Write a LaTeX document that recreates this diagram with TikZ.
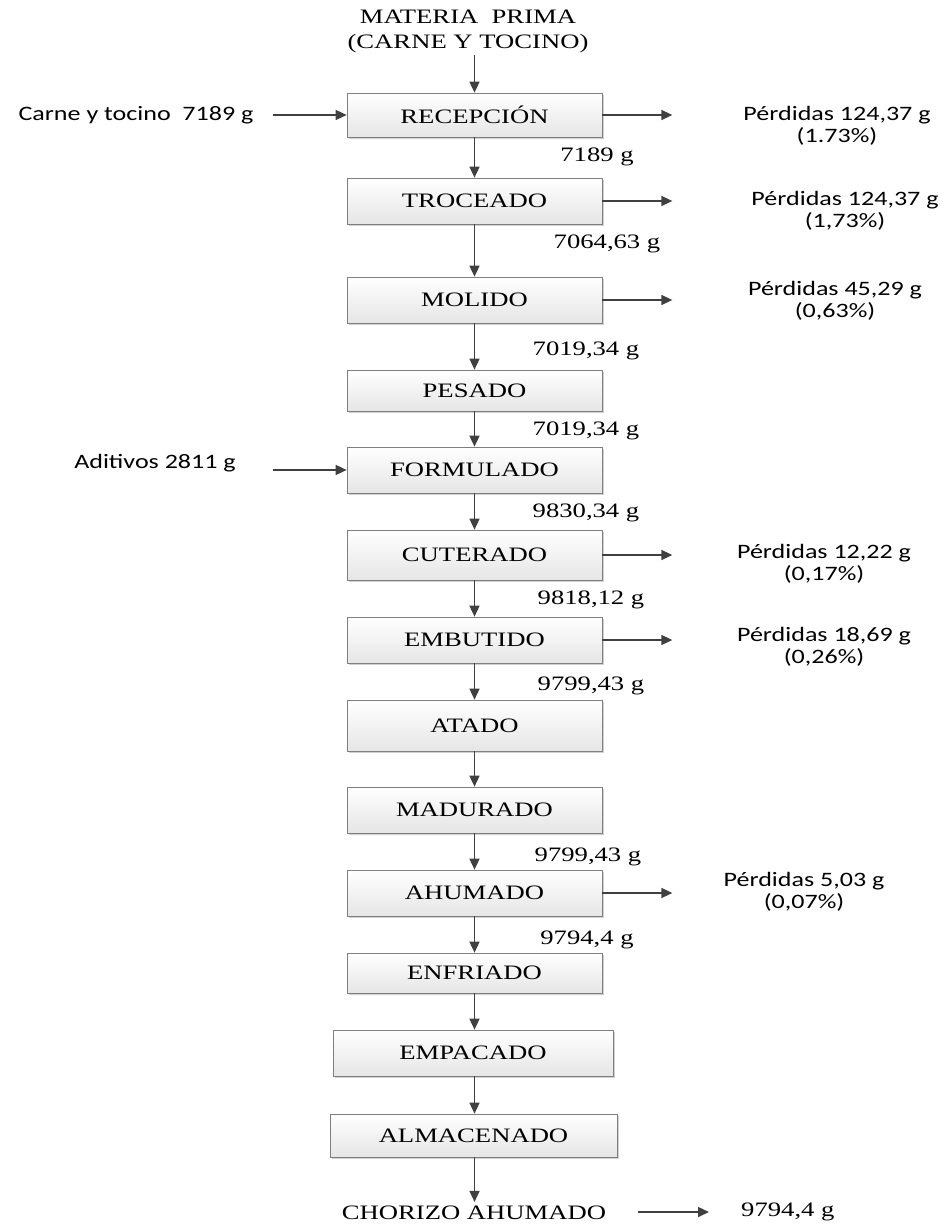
\documentclass[tikz,border=0pt]{standalone}
\usepackage{fontspec}
\setmainfont{Liberation Serif}
\newfontfamily\tmsfont[FakeStretch=1.3]{Liberation Serif}
\newfontfamily\calfont[FakeStretch=1.27]{Carlito}
\usetikzlibrary{arrows.meta,shadows}
\definecolor{arrowgray}{HTML}{404040}
\definecolor{boxline}{HTML}{7F7F7F}
\tikzset{
  proc/.style={draw=boxline, line width=0.7pt, top color=white, bottom color=gray!20,
    drop shadow={shadow xshift=2pt, shadow yshift=-2pt, fill=gray!45, opacity=0.8},
    minimum width=255pt, inner sep=0pt, font=\tmsfont\fontsize{20.5}{24}\selectfont},
  tlab/.style={inner sep=2pt, font=\tmsfont\fontsize{20.5}{24}\selectfont},
  clab/.style={inner sep=2pt, align=center, font=\calfont\fontsize{20.5}{22}\selectfont},
  arr/.style={draw=arrowgray, line width=1.6pt, -{Triangle[length=11pt,width=10pt]}},
}
\begin{document}
\begin{tikzpicture}[x=1pt,y=-1pt]
\useasboundingbox (0,0) rectangle (948,1225);
% title
\node[tlab, align=center, font=\tmsfont\fontsize{20.5}{25}\selectfont] (mp) at (468,31) {MATERIA\ \ PRIMA\\(CARNE Y TOCINO)};
% process boxes
\node[proc, minimum height=44pt] (rec) at (474.5,115) {RECEPCIÓN};
\node[proc, minimum height=46pt] (tro) at (474.5,201) {TROCEADO};
\node[proc, minimum height=46pt] (mol) at (474.5,300) {MOLIDO};
\node[proc, minimum height=41pt] (pes) at (474.5,390.5) {PESADO};
\node[proc, minimum height=46pt] (for) at (474.5,470) {FORMULADO};
\node[proc, minimum height=50pt] (cut) at (474.5,555) {CUTERADO};
\node[proc, minimum height=46pt] (emb) at (474.5,640) {EMBUTIDO};
\node[proc, minimum height=51pt] (ata) at (474.5,725.5) {ATADO};
\node[proc, minimum height=46pt] (mad) at (474.5,810) {MADURADO};
\node[proc, minimum height=46pt] (ahu) at (474.5,893) {AHUMADO};
\node[proc, minimum height=40pt] (enf) at (474.5,973) {ENFRIADO};
\node[proc, minimum height=46pt, minimum width=280pt] (emp) at (473,1053) {EMPACADO};
\node[proc, minimum height=43pt, minimum width=287pt] (alm) at (473.5,1135.5) {ALMACENADO};
\node[tlab, inner sep=4pt] (cho) at (474,1213) {CHORIZO AHUMADO};
% vertical flow
\draw[arr] (mp.south -| rec.north) -- (rec.north);
\draw[arr] (rec) -- (tro);
\draw[arr] (tro) -- (mol);
\draw[arr] (mol) -- (pes);
\draw[arr] (pes) -- (for);
\draw[arr] (for) -- (cut);
\draw[arr] (cut) -- (emb);
\draw[arr] (emb) -- (ata);
\draw[arr] (ata) -- (mad);
\draw[arr] (mad) -- (ahu);
\draw[arr] (ahu) -- (enf);
\draw[arr] (enf.south) -- (enf.south |- emp.north);
\draw[arr] (emp.south -| enf.south) -- (enf.south |- alm.north);
\draw[arr] (alm.south -| enf.south) -- (enf.south |- cho.north);
% mass labels
\node[tlab] (m1) at (597,157) {7189 g};
\node[tlab] (m2) at (607,244) {7064,63 g};
\node[tlab] (m3) at (586,351) {7019,34 g};
\node[tlab] (m4) at (586,431) {7019,34 g};
\node[tlab] (m5) at (586,513) {9830,34 g};
\node[tlab] (m6) at (591,600) {9818,12 g};
\node[tlab] (m7) at (591,686) {9799,43 g};
\node[tlab] (m8) at (588,857) {9799,43 g};
\node[tlab] (m9) at (587,940) {9794,4 g};
\node[tlab, anchor=west] (mf) at (739,1212) {9794,4 g};
\coordinate (cs) at (638,1212);
\coordinate (cf) at (709,1212);
\draw[arr] (cs) -- (cf);
% inputs
\node[clab] (in1) at (136,115) {Carne y tocino\ \ 7189 g};
\node[clab] (in2) at (155,463) {Aditivos 2811 g};
\coordinate (a1) at (273,115);
\coordinate (a2) at (273,470);
\draw[arr] (a1) -- (rec.west);
\draw[arr] (a2) -- (for.west);
% losses
\node[clab] (l1) at (837,126) {Pérdidas 124,37 g\\(1.73\%)};
\node[clab] (l2) at (845,211) {Pérdidas 124,37 g\\(1,73\%)};
\node[clab] (l3) at (835,301) {Pérdidas 45,29 g\\(0,63\%)};
\node[clab] (l4) at (824,564) {Pérdidas 12,22 g\\(0,17\%)};
\node[clab] (l5) at (824,647) {Pérdidas 18,69 g\\(0,26\%)};
\node[clab] (l6) at (804,892) {Pérdidas 5,03 g\\(0,07\%)};
\foreach \b in {rec,tro,mol,cut,emb,ahu}{
  \coordinate (\b-out) at ([xshift=70pt]\b.east);
  \draw[arr] (\b.east) -- (\b-out);
}
\end{tikzpicture}
\end{document}
